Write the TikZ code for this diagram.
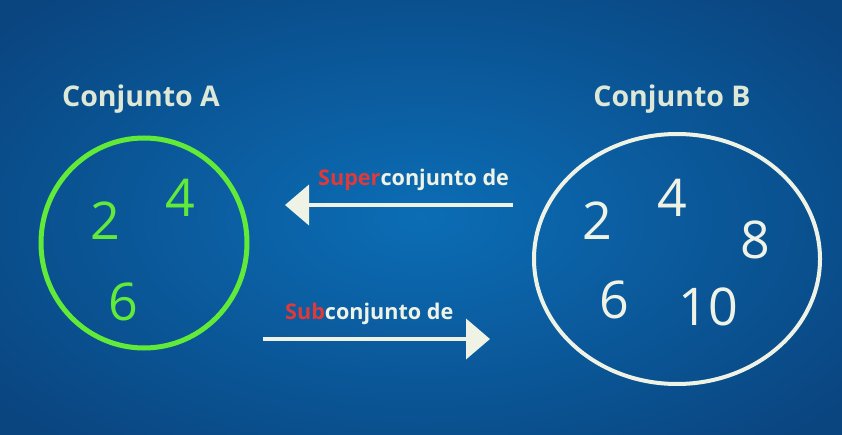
\documentclass[tikz,border=0pt]{standalone}
\usepackage{fontspec}
\setmainfont{Open Sans}
\usetikzlibrary{arrows.meta}
\definecolor{bginner}{HTML}{0B6DB5}
\definecolor{bgouter}{HTML}{0A4580}
\definecolor{setgreen}{HTML}{62EA38}
\definecolor{setwhite}{HTML}{EEF3E6}
\definecolor{titlecol}{HTML}{DDE8D6}
\definecolor{redlab}{HTML}{E0393A}
\tikzset{
  title/.style={font=\fontsize{28.5}{31}\selectfont\bfseries, text=titlecol, inner sep=0pt},
  numA/.style={font=\fontsize{52}{56}\selectfont, text=setgreen, inner sep=0pt},
  numB/.style={font=\fontsize{52}{56}\selectfont, text=setwhite, inner sep=0pt},
  arrlab/.style={font=\fontsize{21.6}{24}\selectfont\bfseries, text=setwhite, inner sep=0pt},
  bigarrow/.style={draw=setwhite, line width=4pt, -{Triangle[length=24pt,width=40pt]}, setwhite}
}
\begin{document}
\begin{tikzpicture}[x=1pt,y=-1pt]
\useasboundingbox (0,0) rectangle (842,435);
\shade[inner color=bginner, outer color=bgouter] (-120,-80) rectangle (962,515);
% set A
\node[title] (tA) at (141,99) {Conjunto A};
\draw[setgreen, line width=5pt] (144,243) ellipse [x radius=103, y radius=105];
\node[numA] (a2) at (105,221) {2};
\node[numA] (a4) at (180,198) {4};
\node[numA] (a6) at (123,302) {6};
% set B
\node[title] (tB) at (672,99) {Conjunto B};
\draw[setwhite, line width=4pt] (677,259) ellipse [x radius=143, y radius=125];
\node[numB] (b2) at (597,221) {2};
\node[numB] (b4) at (672,198) {4};
\node[numB] (b8) at (755,240) {8};
\node[numB] (b6) at (614,300) {6};
\node[numB] (b10) at (708,307) {10};
% arrows
\coordinate (s1) at (513,205);
\coordinate (e1) at (285,205);
\draw[bigarrow] (s1) -- (e1);
\node[arrlab, anchor=west] (lsup) at (318,180) {\textcolor{redlab}{Super}conjunto de};
\coordinate (s2) at (263,339);
\coordinate (e2) at (490,339);
\draw[bigarrow] (s2) -- (e2);
\node[arrlab, anchor=west] (lsub) at (285,314) {\textcolor{redlab}{Sub}conjunto de};
\end{tikzpicture}
\end{document}
